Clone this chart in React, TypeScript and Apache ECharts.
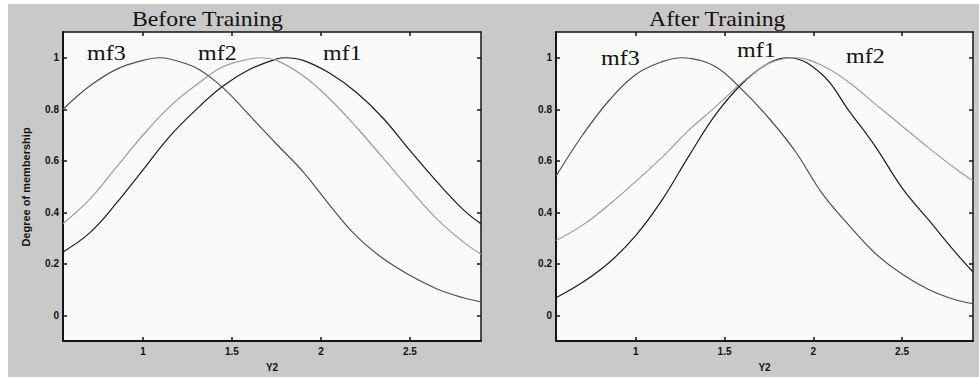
import React, { useEffect, useRef } from "react";
import * as echarts from "echarts";

// ---- axis data ----
const xRange = [0.55, 2.9];
const yRange = [-0.1, 1.1];
const xTicks = [1, 1.5, 2, 2.5];
const yTicks = [0, 0.2, 0.4, 0.6, 0.8, 1];

const panelTitles = ["Before Training", "After Training"];
const xAxisName = "Y2";
const yAxisName = "Degree of membership";

// ---- Before Training ----
const beforeMf1X = [0.55, 0.7, 0.85, 1.0, 1.15, 1.3, 1.45, 1.6, 1.75, 1.8, 1.9, 2.05, 2.2, 2.35, 2.5, 2.65, 2.8, 2.9];
const beforeMf1Y = [0.246, 0.32, 0.435, 0.565, 0.695, 0.8, 0.89, 0.955, 0.995, 1.0, 0.99, 0.94, 0.865, 0.765, 0.64, 0.52, 0.41, 0.355];

const beforeMf2X = [0.55, 0.7, 0.85, 1.0, 1.15, 1.3, 1.45, 1.6, 1.65, 1.75, 1.9, 2.05, 2.2, 2.35, 2.5, 2.65, 2.8, 2.9];
const beforeMf2Y = [0.356, 0.45, 0.575, 0.7, 0.81, 0.895, 0.965, 0.995, 1.0, 0.99, 0.93, 0.84, 0.73, 0.61, 0.49, 0.375, 0.285, 0.237];

const beforeMf3X = [0.55, 0.7, 0.85, 1.0, 1.09, 1.15, 1.3, 1.45, 1.6, 1.75, 1.9, 2.05, 2.2, 2.35, 2.5, 2.65, 2.8, 2.9];
const beforeMf3Y = [0.8, 0.89, 0.955, 0.99, 1.0, 0.995, 0.96, 0.883, 0.775, 0.665, 0.557, 0.427, 0.307, 0.22, 0.155, 0.103, 0.068, 0.052];

// ---- After Training ----
const afterMf1X = [0.55, 0.7, 0.85, 1.0, 1.15, 1.3, 1.45, 1.6, 1.75, 1.86, 2.05, 2.2, 2.35, 2.5, 2.65, 2.8, 2.9];
const afterMf1Y = [0.068, 0.128, 0.205, 0.31, 0.45, 0.62, 0.78, 0.9, 0.98, 1.0, 0.935, 0.795, 0.655, 0.495, 0.37, 0.245, 0.168];

const afterMf2X = [0.55, 0.7, 0.85, 1.0, 1.15, 1.3, 1.45, 1.6, 1.75, 1.9, 2.05, 2.2, 2.35, 2.5, 2.65, 2.8, 2.9];
const afterMf2Y = [0.29, 0.35, 0.43, 0.52, 0.615, 0.72, 0.81, 0.905, 0.978, 1.0, 0.97, 0.905, 0.82, 0.735, 0.65, 0.57, 0.522];

const afterMf3X = [0.55, 0.7, 0.85, 1.0, 1.15, 1.26, 1.3, 1.45, 1.6, 1.75, 1.9, 2.05, 2.2, 2.35, 2.5, 2.65, 2.8, 2.9];
const afterMf3Y = [0.54, 0.7, 0.835, 0.935, 0.985, 1.0, 0.998, 0.965, 0.875, 0.765, 0.635, 0.473, 0.35, 0.24, 0.16, 0.1, 0.06, 0.045];

const seriesNames = ["mf1", "mf2", "mf3"];

const zip = (xs: number[], ys: number[]) => xs.map((x, i) => [x, ys[i]]);

const COLORS: Record<string, string> = { mf1: "#1c1c1c", mf2: "#9c9c9c", mf3: "#505050" };
const TICK_FONT = "'Liberation Sans Narrow', 'Liberation Sans', Arial, sans-serif";
const SERIF = "'Liberation Serif', 'Times New Roman', serif";

export default function App() {
  const ref = useRef<HTMLDivElement | null>(null);

  useEffect(() => {
    if (!ref.current) return;
    const chart = echarts.init(ref.current, undefined, { renderer: "svg" });

    const grids = [
      { left: 63, top: 32, width: 418, height: 310 },
      { left: 556, top: 32, width: 417, height: 310 },
    ];

    const xAxes: any[] = [];
    const yAxes: any[] = [];
    grids.forEach((_, gi) => {
      ["bottom", "top"].forEach((pos) => {
        xAxes.push({
          type: "value",
          gridIndex: gi,
          position: pos,
          min: xRange[0],
          max: xRange[1],
          name: pos === "bottom" ? xAxisName : "",
          nameLocation: "middle",
          nameGap: 21,
          nameTextStyle: { fontFamily: TICK_FONT, fontWeight: "bold", fontSize: 10, color: "#111" },
          axisLine: { show: true, onZero: false, lineStyle: { color: "#141414", width: pos === "bottom" ? 2 : 1.5 } },
          axisTick: { show: true, inside: true, length: 4, customValues: xTicks, lineStyle: { color: "#141414", width: 1.5 } },
          axisLabel: {
            show: pos === "bottom",
            customValues: xTicks,
            margin: 5,
            fontFamily: TICK_FONT,
            fontWeight: "bold",
            fontSize: 10,
            color: "#111",
            formatter: (v: number) => String(v),
          },
          splitLine: { show: false },
        });
      });
      ["left", "right"].forEach((pos) => {
        yAxes.push({
          type: "value",
          gridIndex: gi,
          position: pos,
          min: yRange[0],
          max: yRange[1],
          axisLine: { show: true, onZero: false, lineStyle: { color: "#141414", width: pos === "left" ? 2 : 1.5 } },
          axisTick: { show: true, inside: true, length: 4, customValues: yTicks, lineStyle: { color: "#141414", width: 1.5 } },
          axisLabel: {
            show: pos === "left",
            customValues: yTicks,
            margin: 4,
            fontFamily: TICK_FONT,
            fontWeight: "bold",
            fontSize: 10,
            color: "#111",
            formatter: (v: number) => String(Math.round(v * 10) / 10),
          },
          splitLine: { show: false },
        });
      });
    });

    const panelData = [
      { mf1: zip(beforeMf1X, beforeMf1Y), mf2: zip(beforeMf2X, beforeMf2Y), mf3: zip(beforeMf3X, beforeMf3Y) },
      { mf1: zip(afterMf1X, afterMf1Y), mf2: zip(afterMf2X, afterMf2Y), mf3: zip(afterMf3X, afterMf3Y) },
    ];

    const series: any[] = [];
    panelData.forEach((pd: any, gi) => {
      seriesNames.forEach((n) => {
        series.push({
          type: "line",
          name: `${panelTitles[gi]} ${n}`,
          xAxisIndex: gi * 2,
          yAxisIndex: gi * 2,
          data: pd[n],
          smooth: 0.4,
          showSymbol: false,
          symbol: "none",
          lineStyle: { color: COLORS[n], width: 1.2 },
          z: 3,
        });
      });
    });

    const mfLabel = (text: string, x: number, y: number) => ({
      type: "text",
      x,
      y,
      scaleX: 1.2,
      style: { text, fontFamily: SERIF, fontSize: 20, fill: "#111", align: "left", verticalAlign: "middle" },
      z: 10,
    });

    chart.setOption({
      animation: false,
      backgroundColor: "transparent",
      grid: grids.map((g) => ({ ...g, show: true, backgroundColor: "#fafafa", borderWidth: 0, containLabel: false })),
      xAxis: xAxes,
      yAxis: yAxes,
      series,
      graphic: [
        {
          type: "text",
          x: 132,
          y: 18.5,
          scaleX: 1.08,
          style: { text: panelTitles[0], fontFamily: SERIF, fontSize: 22, fill: "#111", align: "left", verticalAlign: "middle" },
        },
        {
          type: "text",
          x: 649,
          y: 19,
          scaleX: 1.08,
          style: { text: panelTitles[1], fontFamily: SERIF, fontSize: 22, fill: "#111", align: "left", verticalAlign: "middle" },
        },
        {
          type: "text",
          x: 26,
          y: 187,
          rotation: Math.PI / 2,
          style: { text: yAxisName, fontFamily: TICK_FONT, fontWeight: "bold", fontSize: 11, fill: "#111", align: "center", verticalAlign: "middle" },
        },
        mfLabel("mf3", 87, 53.5),
        mfLabel("mf2", 198, 53.5),
        mfLabel("mf1", 323, 53.5),
        mfLabel("mf3", 601, 58.5),
        mfLabel("mf1", 737, 50),
        mfLabel("mf2", 846, 56.5),
      ],
    });

    return () => chart.dispose();
  }, []);

  return (
    <div style={{ position: "fixed", left: 0, top: 0, width: 979, height: 377, background: "#ffffff" }}>
      <div style={{ position: "absolute", left: 8, top: 4, width: 971, height: 373, background: "#c9c9c9" }} />
      <div ref={ref} style={{ position: "absolute", left: 0, top: 0, width: 979, height: 377 }} />
    </div>
  );
}
